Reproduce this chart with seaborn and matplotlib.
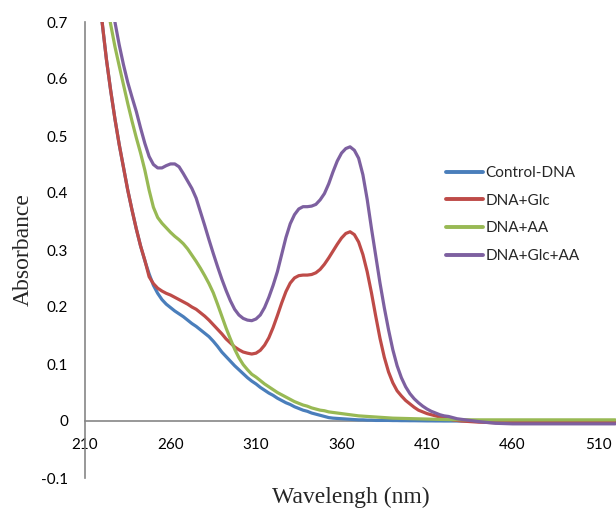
import numpy as np
import pandas as pd
import matplotlib
matplotlib.use("Agg")
import matplotlib.pyplot as plt
import seaborn as sns
from matplotlib.ticker import FuncFormatter

# Wavelength sampling (nm): 2.5 nm steps up to 430 nm, then 10 nm steps
wavelength = [215, 217.5,
              220, 222.5, 225, 227.5, 230, 232.5, 235, 237.5,
              240, 242.5, 245, 247.5, 250, 252.5, 255, 257.5,
              260, 262.5, 265, 267.5, 270, 272.5, 275, 277.5,
              280, 282.5, 285, 287.5, 290, 292.5, 295, 297.5,
              300, 302.5, 305, 307.5, 310, 312.5, 315, 317.5,
              320, 322.5, 325, 327.5, 330, 332.5, 335, 337.5,
              340, 342.5, 345, 347.5, 350, 352.5, 355, 357.5,
              360, 362.5, 365, 367.5, 370, 372.5, 375, 377.5,
              380, 382.5, 385, 387.5, 390, 392.5, 395, 397.5,
              400, 402.5, 405, 407.5, 410, 412.5, 415, 417.5,
              420, 422.5, 425, 427.5, 430,
              440, 450, 460, 470, 480, 490, 500, 510, 520]

control_dna = [0.86, 0.78,
               0.70, 0.635, 0.58, 0.53, 0.485, 0.445, 0.405, 0.37,
               0.337, 0.307, 0.281, 0.258, 0.238, 0.224, 0.213, 0.205,
               0.199, 0.193, 0.188, 0.183, 0.177, 0.171, 0.166, 0.160,
               0.154, 0.148, 0.140, 0.131, 0.121, 0.113, 0.105, 0.097,
               0.090, 0.083, 0.076, 0.070, 0.065, 0.059, 0.054, 0.049,
               0.045, 0.040, 0.036, 0.032, 0.029, 0.025, 0.022, 0.019,
               0.017, 0.014, 0.012, 0.010, 0.008, 0.006, 0.005, 0.0045,
               0.004, 0.0035, 0.003, 0.0025, 0.002, 0.002, 0.0015, 0.0015,
               0.001, 0.001, 0.001, 0.001, 0.0008, 0.0008, 0.0006, 0.0006,
               0.0005, 0.0005, 0.0004, 0.0003, 0.0002, 0.0002, 0.0001, 0.0001,
               0.0, 0.0, 0.0, 0.0, 0.0,
               0.0, 0.0, 0.0, 0.0, 0.0, 0.0, 0.0, 0.0, 0.0]

dna_glc = [0.86, 0.78,
           0.70, 0.635, 0.58, 0.53, 0.485, 0.445, 0.405, 0.37,
           0.337, 0.307, 0.282, 0.253, 0.241, 0.233, 0.228, 0.224,
           0.221, 0.217, 0.213, 0.209, 0.205, 0.200, 0.196, 0.190,
           0.184, 0.177, 0.169, 0.161, 0.153, 0.144, 0.137, 0.130,
           0.125, 0.121, 0.119, 0.1175, 0.119, 0.124, 0.133, 0.146,
           0.164, 0.185, 0.207, 0.227, 0.242, 0.251, 0.255, 0.256,
           0.256, 0.257, 0.260, 0.266, 0.275, 0.286, 0.298, 0.310,
           0.321, 0.329, 0.332, 0.327, 0.314, 0.292, 0.262, 0.225,
           0.184, 0.145, 0.112, 0.086, 0.067, 0.053, 0.044, 0.036,
           0.030, 0.024, 0.019, 0.016, 0.013, 0.011, 0.009, 0.007,
           0.005, 0.004, 0.002, 0.001, 0.0,
           -0.002, -0.003, -0.003, -0.003, -0.003, -0.003, -0.003, -0.003, -0.003]

dna_aa = [0.92, 0.85,
          0.79, 0.74, 0.696, 0.657, 0.623, 0.590, 0.557, 0.526,
          0.497, 0.470, 0.440, 0.405, 0.375, 0.357, 0.347, 0.339,
          0.331, 0.324, 0.318, 0.311, 0.302, 0.291, 0.280, 0.268,
          0.255, 0.241, 0.225, 0.205, 0.184, 0.163, 0.144, 0.126,
          0.111, 0.099, 0.090, 0.082, 0.077, 0.071, 0.065, 0.060,
          0.055, 0.050, 0.046, 0.042, 0.038, 0.034, 0.031, 0.028,
          0.026, 0.023, 0.021, 0.019, 0.018, 0.016, 0.015, 0.014,
          0.013, 0.012, 0.011, 0.010, 0.009, 0.0085, 0.008, 0.0075,
          0.007, 0.0065, 0.006, 0.0055, 0.005, 0.0048, 0.0046, 0.0044,
          0.0042, 0.004, 0.0038, 0.0036, 0.0034, 0.0032, 0.003, 0.0028,
          0.0026, 0.0025, 0.0024, 0.0023, 0.0022,
          0.002, 0.002, 0.002, 0.002, 0.002, 0.002, 0.002, 0.002, 0.002]

dna_glc_aa = [1.00, 0.93,
              0.86, 0.80, 0.745, 0.70, 0.66, 0.625, 0.594, 0.568,
              0.543, 0.514, 0.487, 0.464, 0.450, 0.444, 0.444, 0.448,
              0.451, 0.451, 0.446, 0.434, 0.421, 0.408, 0.391, 0.367,
              0.343, 0.318, 0.294, 0.271, 0.249, 0.229, 0.211, 0.196,
              0.186, 0.180, 0.177, 0.176, 0.179, 0.186, 0.199, 0.217,
              0.238, 0.262, 0.292, 0.322, 0.346, 0.362, 0.372, 0.376,
              0.376, 0.377, 0.380, 0.388, 0.399, 0.416, 0.437, 0.456,
              0.470, 0.478, 0.481, 0.475, 0.461, 0.432, 0.389, 0.338,
              0.290, 0.242, 0.199, 0.160, 0.125, 0.097, 0.076, 0.060,
              0.048, 0.039, 0.032, 0.026, 0.021, 0.017, 0.014, 0.011,
              0.009, 0.008, 0.006, 0.004, 0.003,
              -0.001, -0.004, -0.005, -0.005, -0.005, -0.005, -0.005, -0.005, -0.005]

series_names = ["Control-DNA", "DNA+Glc", "DNA+AA", "DNA+Glc+AA"]
series_colors = ["#4A7EBB", "#BE4B48", "#98B954", "#7D60A0"]

x_ticks = [210, 260, 310, 360, 410, 460, 510]
y_ticks = [-0.1, 0, 0.1, 0.2, 0.3, 0.4, 0.5, 0.6, 0.7]

frames = []
for name, vals in zip(series_names, [control_dna, dna_glc, dna_aa, dna_glc_aa]):
    frames.append(pd.DataFrame({"Wavelength": wavelength, "Absorbance": vals, "Sample": name}))
df = pd.concat(frames, ignore_index=True)

sns.set_style("white")
plt.rcParams["font.family"] = ["Lato", "DejaVu Sans"]

fig = plt.figure(figsize=(6.16, 5.08), dpi=100)
ax = fig.add_axes([85 / 616, 30 / 508, 531 / 616, 456 / 508])

sns.lineplot(data=df, x="Wavelength", y="Absorbance", hue="Sample",
             hue_order=series_names, palette=series_colors, linewidth=2.3,
             estimator=None, sort=False, ax=ax)
for line in ax.get_lines():
    line.set_solid_joinstyle("round")
    line.set_solid_capstyle("round")

ax.set_xlim(210, 520.5)
ax.set_ylim(-0.1, 0.7)

axis_grey = "#868686"
for side in ["top", "right"]:
    ax.spines[side].set_visible(False)
ax.spines["bottom"].set_position(("data", 0))
ax.spines["left"].set_position(("data", 210))
for side in ["bottom", "left"]:
    ax.spines[side].set_color(axis_grey)
    ax.spines[side].set_linewidth(1.2)
    ax.spines[side].set_zorder(1)

ax.set_xticks(x_ticks)
ax.set_yticks(y_ticks)
ax.yaxis.set_major_formatter(FuncFormatter(lambda v, p: "0" if abs(v) < 1e-9 else f"{v:.1f}"))
ax.tick_params(axis="both", direction="out", length=4, width=1.0, color=axis_grey,
               labelsize=11, labelcolor="black")
ax.tick_params(axis="x", pad=8)
ax.tick_params(axis="y", pad=8)

serif = ["Liberation Serif", "DejaVu Serif"]
ax.set_xlabel("Wavelengh (nm)", fontsize=17, family=serif)
ax.set_ylabel("Absorbance", fontsize=17, family=serif)
ax.xaxis.set_label_coords(0.5, -0.042)
ax.xaxis.label.set_va("center")
ax.yaxis.set_label_coords(-0.117, 0.5)
ax.yaxis.label.set_va("center")

handles, labels = ax.get_legend_handles_labels()
leg = ax.legend(handles, labels, loc="upper left", bbox_to_anchor=(446 / 616, 1 - 166 / 508),
                bbox_transform=fig.transFigure, frameon=False, fontsize=11,
                handlelength=2.4, handletextpad=0.2, labelspacing=0.9, borderpad=0,
                borderaxespad=0)
for line in leg.get_lines():
    line.set_linewidth(2.8)

fig.savefig("out.png", dpi=100)
